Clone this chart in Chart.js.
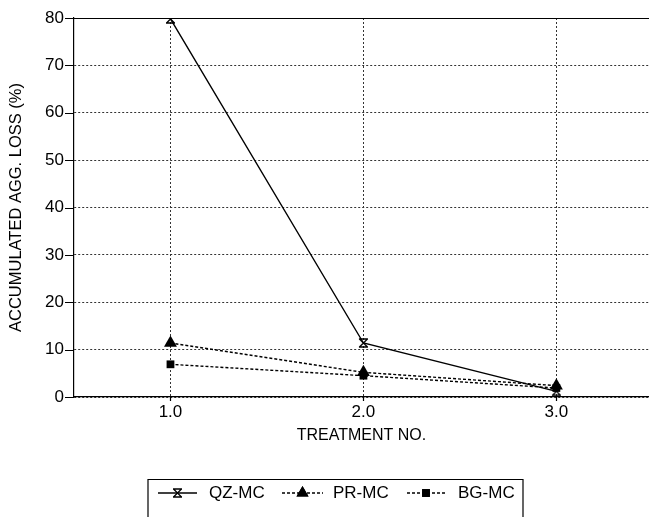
<!DOCTYPE html>
<html>
<head>
<meta charset="utf-8">
<script src="https://cdn.jsdelivr.net/npm/chart.js@4.4.0/dist/chart.umd.min.js"></script>
<style>
  html, body { margin: 0; padding: 0; background: #fff; }
  #wrap { width: 649px; height: 517px; }
</style>
</head>
<body>
<div id="wrap"><canvas id="chart" width="649" height="517"></canvas></div>
<script>
const treatments = [1, 2, 3];
const xTicks = [1, 2, 3];
const yTicks = [0, 10, 20, 30, 40, 50, 60, 70, 80];
const qzLoss = [79.8, 11.4, 1.2];
const prLoss = [11.4, 5.2, 2.4];
const bgLoss = [6.9, 4.5, 1.9];
const seriesNames = ['QZ-MC', 'PR-MC', 'BG-MC'];

const FONT = '"Liberation Sans", Arial, Helvetica, sans-serif';

// hourglass marker used for QZ-MC
function hourglass(){
    const c = document.createElement('canvas');
    c.width = 11; c.height = 10;
    const g = c.getContext('2d');
    g.strokeStyle = '#000';
    g.lineWidth = 1.3;
    g.beginPath();
    g.moveTo(1, 1); g.lineTo(10, 1);
    g.moveTo(1, 9); g.lineTo(10, 9);
    g.moveTo(1.5, 1); g.lineTo(9.5, 9);
    g.moveTo(9.5, 1); g.lineTo(1.5, 9);
    g.stroke();
    return c;
}
const hgIcon = hourglass();

function pts(vals){
    return treatments.map((t, i) => ({x: t, y: vals[i]}));
}

const data = {
    datasets: [{
        label: seriesNames[0],
        data: pts(qzLoss),
        borderColor: '#000',
        borderWidth: 1.4,
        pointStyle: hgIcon,
        pointRadius: 5,
        backgroundColor: '#000'
    }, {
        label: seriesNames[1],
        data: pts(prLoss),
        borderColor: '#000',
        borderWidth: 1.4,
        borderDash: [3, 2],
        pointStyle: 'triangle',
        pointRadius: 7.5,
        pointBackgroundColor: '#000',
        pointBorderColor: '#000',
        pointBorderWidth: 0
    }, {
        label: seriesNames[2],
        data: pts(bgLoss),
        borderColor: '#000',
        borderWidth: 1.4,
        borderDash: [3, 2],
        pointStyle: 'rect',
        pointRadius: 5.5,
        pointBackgroundColor: '#000',
        pointBorderColor: '#000',
        pointBorderWidth: 0
    }]
};

// solid top line, solid tick marks and the boxed legend under the axis
const extras = {
    id: 'extras',
    afterDraw(chart){
        const ctx = chart.ctx;
        const area = chart.chartArea;
        const xs = chart.scales.x, ys = chart.scales.y;
        ctx.save();
        ctx.strokeStyle = '#000';
        ctx.lineWidth = 1.2;
        ctx.beginPath();
        ctx.moveTo(area.left, area.top + 0.5);
        ctx.lineTo(area.right, area.top + 0.5);
        yTicks.forEach(v => {
            const y = Math.round(ys.getPixelForValue(v)) + 0.5;
            ctx.moveTo(area.left - 9, y);
            ctx.lineTo(area.left, y);
        });
        xTicks.forEach(v => {
            const x = Math.round(xs.getPixelForValue(v)) + 0.5;
            ctx.moveTo(x, area.bottom);
            ctx.lineTo(x, area.bottom + 4);
        });
        ctx.stroke();

        // legend box
        ctx.lineWidth = 1.2;
        ctx.beginPath();
        ctx.moveTo(148, 530);
        ctx.lineTo(148, 479.5);
        ctx.lineTo(523, 479.5);
        ctx.lineTo(523, 530);
        ctx.stroke();

        const ly = 493;
        const items = [
            {x0: 158, x1: 197, tx: 209},
            {x0: 282, x1: 323, tx: 333},
            {x0: 407, x1: 445, tx: 458}
        ];
        chart.data.datasets.forEach((ds, i) => {
            const it = items[i];
            ctx.save();
            ctx.lineWidth = 1.4;
            ctx.setLineDash(ds.borderDash || []);
            ctx.beginPath();
            ctx.moveTo(it.x0, ly);
            ctx.lineTo(it.x1, ly);
            ctx.stroke();
            ctx.restore();
            const cx = (it.x0 + it.x1) / 2;
            Chart.helpers.drawPoint(ctx, {
                pointStyle: ds.pointStyle,
                radius: ds.pointStyle === 'triangle' ? 7 : ds.pointRadius,
                rotation: 0,
                borderWidth: 0
            }, cx, ly);
            if (ds.pointStyle !== hgIcon){
                ctx.fillStyle = '#000';
                ctx.fill();
            }
            ctx.fillStyle = '#000';
            ctx.font = '17px ' + FONT;
            ctx.textBaseline = 'middle';
            ctx.textAlign = 'left';
            ctx.fillText(ds.label, it.tx, ly);
        });
        ctx.restore();
    }
};

const chart = new Chart(document.getElementById('chart'), {
    type: 'line',
    data: data,
    options: {
        responsive: false,
        animation: false,
        layout: {autoPadding: false, padding: {top: 18, right: 0, bottom: 70, left: 0}},
        plugins: {legend: {display: false}, tooltip: {enabled: false}},
        scales: {
            x: {
                type: 'linear',
                min: 0.5,
                max: 3.48,
                afterBuildTicks: (s) => { s.ticks = xTicks.map(v => ({value: v})); },
                afterFit: (s) => { s.height = 50; s.paddingLeft = 0; s.paddingRight = 0; },
                ticks: {
                    color: '#000',
                    font: {family: FONT, size: 17},
                    padding: 5,
                    callback: (v) => Number(v).toFixed(1)
                },
                grid: {color: '#333', lineWidth: 1, drawTicks: false},
                border: {color: '#000', width: 1.2, dash: [2, 2]},
                title: {
                    display: true,
                    text: 'TREATMENT NO.',
                    color: '#000',
                    font: {family: FONT, size: 16},
                    padding: {top: 0, bottom: 2}
                }
            },
            y: {
                min: 0,
                max: 80,
                afterBuildTicks: (s) => { s.ticks = yTicks.map(v => ({value: v})); },
                afterFit: (s) => { s.width = 74; s.paddingTop = 0; s.paddingBottom = 0; },
                ticks: {
                    color: '#000',
                    font: {family: FONT, size: 17},
                    padding: 10
                },
                grid: {color: '#333', lineWidth: 1, drawTicks: false},
                border: {color: '#000', width: 1.2, dash: [2, 2]},
                title: {
                    display: true,
                    text: 'ACCUMULATED AGG. LOSS (%)',
                    color: '#000',
                    font: {family: FONT, size: 16.5},
                    padding: {top: 7, bottom: 0}
                }
            }
        }
    },
    plugins: [extras]
});
</script>
</body>
</html>
